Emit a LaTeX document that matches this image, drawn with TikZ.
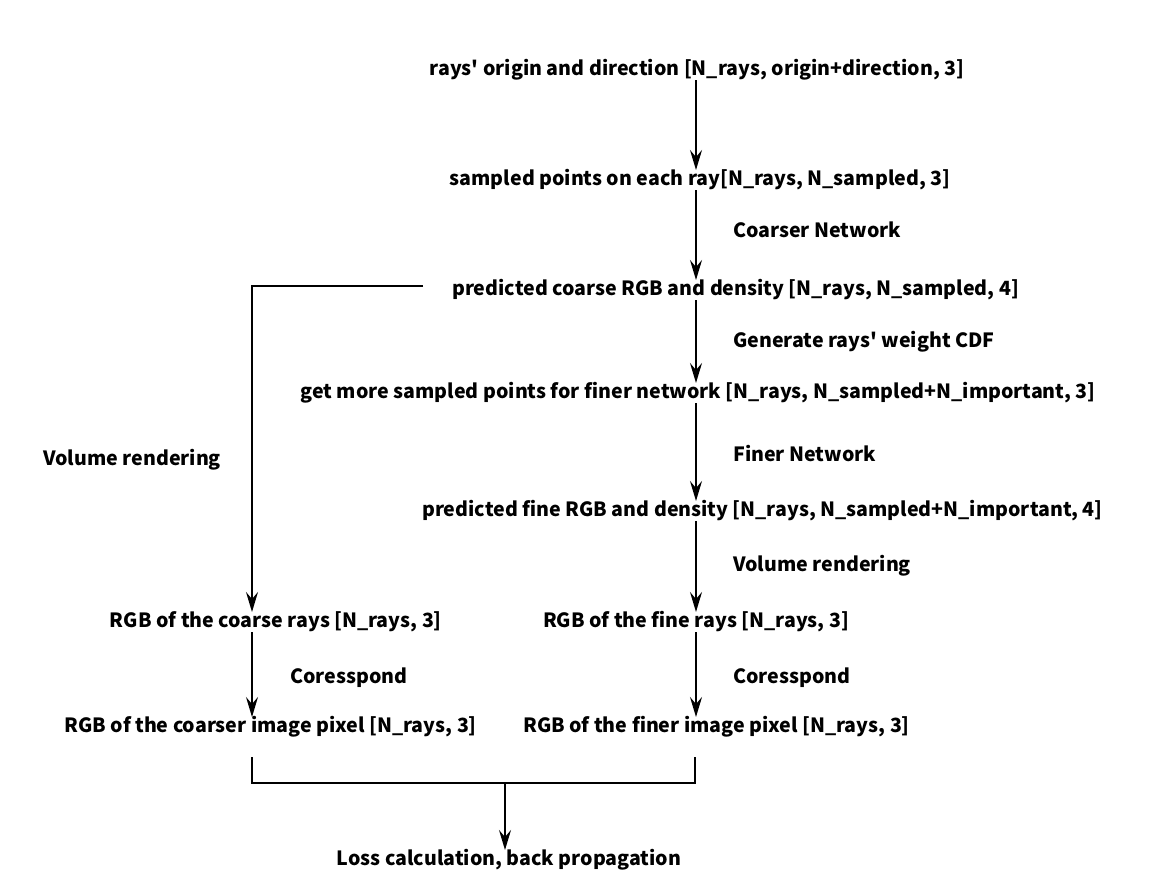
\documentclass[tikz,border=0pt]{standalone}
\usepackage{fontspec}
\setmainfont{Noto Sans CJK SC}[Ligatures=TeXOff]
\usetikzlibrary{arrows.meta}
\begin{document}
\begin{tikzpicture}[x=1pt,y=-1pt,
  txt/.style={font=\fontsize{19.6}{22}\selectfont\bfseries, inner xsep=0pt, inner ysep=0pt, text height=14pt, text depth=4pt, outer ysep=1pt},
  lbl/.style={txt, anchor=west},
  arr/.style={line width=1.8pt, -{Stealth[length=20pt,width=12pt,inset=7pt]}},
  ln/.style={line width=1.8pt}]
\useasboundingbox (0,0) rectangle (1171,892);
\coordinate (col) at (696,0);
\coordinate (lcol) at (252,0);
\node[txt] (n1) at (697,70) {rays' origin and direction [N\_rays, origin+direction, 3]};
\node[txt] (n2) at (700,180) {sampled points on each ray[N\_rays, N\_sampled, 3]};
\node[txt, anchor=west] (n3) at (452,290) {predicted coarse RGB and density [N\_rays, N\_sampled, 4]};
\node[txt] (n4) at (698,393) {get more sampled points for finer network [N\_rays, N\_sampled+N\_important, 3]};
\node[txt, anchor=west] (n5) at (422,511) {predicted fine RGB and density [N\_rays, N\_sampled+N\_important, 4]};
\node[txt] (n6) at (696,622) {RGB of the fine rays [N\_rays, 3]};
\node[txt, anchor=east] (c6) at (442,622) {RGB of the coarse rays [N\_rays, 3]};
\node[txt, anchor=west] (n7) at (523,727) {RGB of the finer image pixel [N\_rays, 3]};
\node[txt, anchor=east] (c7) at (477,727) {RGB of the coarser image pixel [N\_rays, 3]};
\node[txt] (loss) at (509,860) {Loss calculation, back propagation};

\node[lbl] (l1) at (733,232) {Coarser Network};
\node[lbl] (l2) at (733,342) {Generate rays' weight CDF};
\node[lbl] (l3) at (733,456) {Finer Network};
\node[lbl] (l4) at (733,566) {Volume rendering};
\node[lbl] (l5) at (733,678) {Coresspond};
\node[lbl] (l6) at (290,678) {Coresspond};
\node[lbl] (l7) at (43,460) {Volume rendering};

\draw[arr] (n1.south -| col) -- (n2.north -| col);
\draw[arr] (n2.south -| col) -- (n3.north -| col);
\draw[arr] (n3.south -| col) -- (n4.north -| col);
\draw[arr] (n4.south -| col) -- (n5.north -| col);
\draw[arr] (n5.south -| col) -- (n6.north -| col);
\draw[arr] (n6.south -| col) -- (n7.north -| col);
\draw[arr] (c6.south -| lcol) -- (c7.north -| lcol);

\coordinate (h1) at ([xshift=-29pt]n3.west |- 0,286);
\draw[arr] (h1) -| (c6.north -| lcol);

\coordinate (b1) at (252,757);
\coordinate (b2) at (695,757);
\coordinate (bm) at (505,783);
\draw[ln] (b1) |- (bm) -| (b2);
\draw[arr] (bm) -- (loss.north -| bm);
\end{tikzpicture}
\end{document}
